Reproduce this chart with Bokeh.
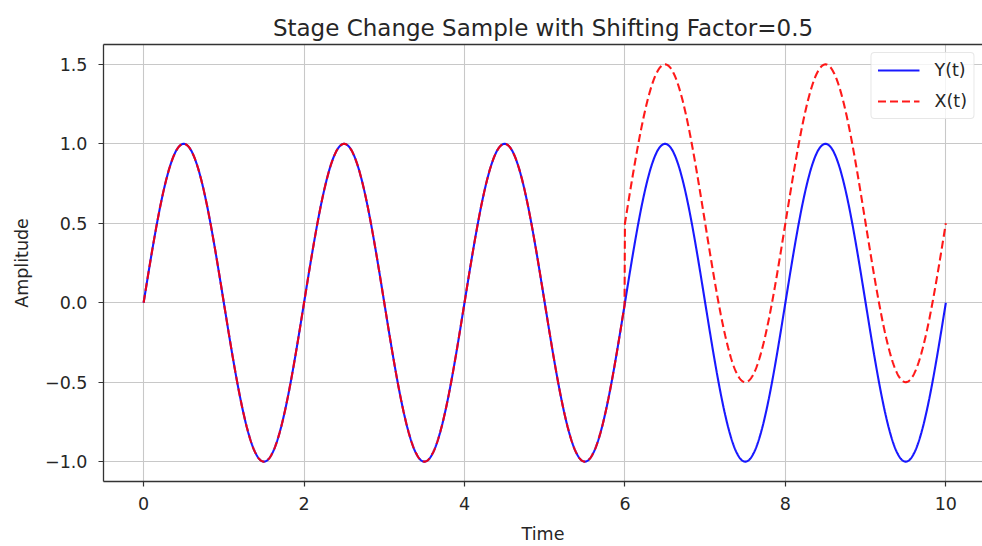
import numpy as np
from bokeh.plotting import figure
from bokeh.models import ColumnDataSource, LinearAxis, Range1d, FixedTicker, Legend, LegendItem
from bokeh.embed import file_html
from bokeh.resources import INLINE

# Parameters
title_text = "Stage Change Sample with Shifting Factor=0.5"
period = 2.0          # peaks at 0.5, 2.5, 4.5, ...
amplitude = 1.0
shift_factor = 0.5    # from title
change_time = 6.0     # X(t) departs from Y(t) at t=6
t_start, t_end = 0.0, 10.0
x_ticks = [0, 2, 4, 6, 8, 10]
y_ticks = [-1.0, -0.5, 0.0, 0.5, 1.0, 1.5]

t = np.linspace(t_start, t_end, 2001)
y = amplitude * np.sin(2 * np.pi * t / period)
x = y + shift_factor * (t >= change_time)

src = ColumnDataSource(dict(t=t, y=y, x=x))

FONT = "DejaVu Sans"
SMALL = "17.5px"
TXT = "#262626"
p = figure(width=982, height=546, output_backend="svg", toolbar_location=None,
           x_range=Range1d(-0.5, 10.457), y_range=Range1d(-1.125, 1.625),
           min_border_left=103, min_border_right=0, min_border_top=44, min_border_bottom=62)

p.title.text = title_text
p.title.align = "center"
p.title.vertical_align = "middle"
p.title.text_font = FONT
p.title.text_font_size = "23px"
p.title.text_font_style = "normal"
p.title.text_color = TXT
p.title.standoff = 6

p.outline_line_color = None
p.background_fill_color = "white"
p.border_fill_color = "white"

for ax in (p.xaxis[0], p.yaxis[0]):
    ax.major_label_text_font = FONT
    ax.major_label_text_font_size = SMALL
    ax.major_label_text_color = TXT
    ax.axis_label_text_font = FONT
    ax.axis_label_text_font_size = SMALL
    ax.axis_label_text_font_style = "normal"
    ax.axis_label_text_color = TXT
    ax.axis_line_color = "#333333"
    ax.axis_line_width = 1.3
    ax.major_tick_line_color = "#333333"
    ax.major_tick_line_width = 1.2
    ax.major_tick_in = 0
    ax.major_tick_out = 5
    ax.minor_tick_line_color = None

p.xaxis[0].ticker = FixedTicker(ticks=x_ticks)
p.yaxis[0].ticker = FixedTicker(ticks=y_ticks)
p.xaxis[0].axis_label = "Time"
p.yaxis[0].axis_label = "Amplitude"
p.xaxis[0].major_label_overrides = {v: str(v) for v in x_ticks}
p.yaxis[0].major_label_overrides = {v: f"{v:.1f}".replace("-", "\u2212") for v in y_ticks}
p.xaxis[0].major_label_standoff = 10
p.yaxis[0].major_label_standoff = 11
p.xaxis[0].axis_label_standoff = 11
p.yaxis[0].axis_label_standoff = 10

top = LinearAxis(ticker=FixedTicker(ticks=[]), major_label_text_font_size="0px",
                 axis_line_color="#333333", axis_line_width=1.3,
                 major_tick_line_color=None, minor_tick_line_color=None)
p.add_layout(top, "above")

p.xgrid.ticker = FixedTicker(ticks=x_ticks)
p.ygrid.ticker = FixedTicker(ticks=y_ticks)
p.grid.grid_line_color = "#c8c8c8"
p.grid.grid_line_width = 1.1

ry = p.line("t", "y", source=src, line_color="#0000ff", line_width=2.1, alpha=0.9)
rx = p.line("t", "x", source=src, line_color="#ff0000", line_width=2.1, line_dash="8 4", alpha=0.9)

legend = Legend(items=[LegendItem(label="Y(t)", renderers=[ry]),
                       LegendItem(label="X(t)", renderers=[rx])],
                location="top_right")
legend.label_text_font = FONT
legend.label_text_font_size = SMALL
legend.label_text_color = TXT
legend.border_line_color = "#d0d0d0"
legend.border_line_width = 1
legend.border_radius = 4
legend.background_fill_alpha = 0.8
legend.glyph_width = 42
legend.glyph_height = 22
legend.label_height = 22
legend.label_standoff = 15
legend.spacing = 9
legend.padding = 6
legend.margin = 8
p.add_layout(legend)

open("out.html", "w").write(file_html(p, INLINE))
